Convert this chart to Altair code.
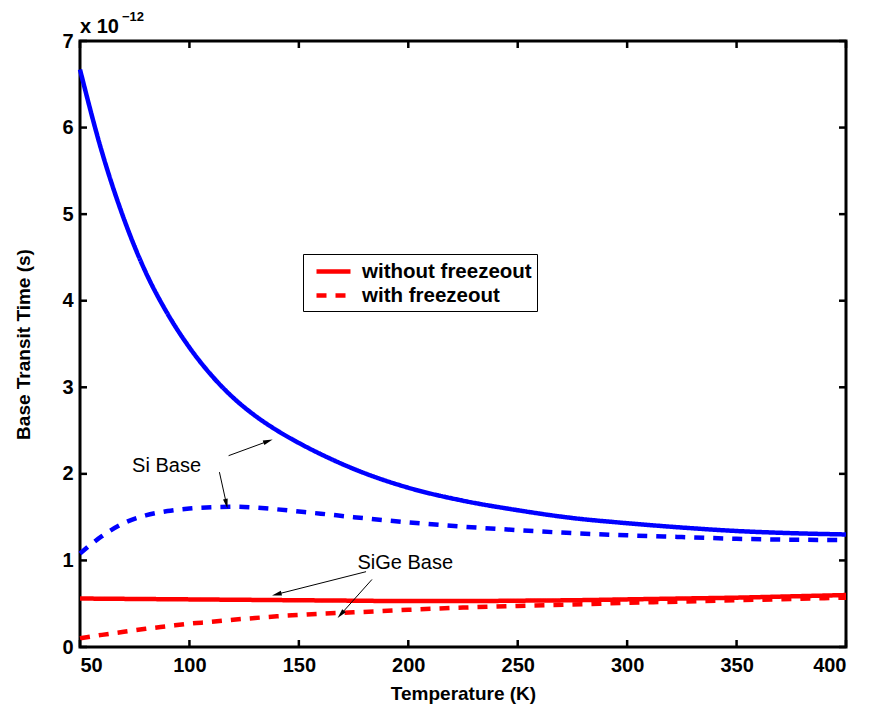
import math
import altair as alt
import pandas as pd

# ---------------- data (values in units of 1e-12 s) ----------------
temps = [50, 60, 70, 80, 90, 100, 110, 120, 130, 140, 150, 160, 175, 200,
         225, 250, 275, 300, 325, 350, 375, 400]
si_without = [6.67, 5.72, 4.95, 4.33, 3.85, 3.46, 3.14, 2.88, 2.672, 2.502, 2.357,
              2.228, 2.058, 1.84, 1.69, 1.58, 1.49, 1.43, 1.38, 1.34, 1.315, 1.30]
si_with = [1.08, 1.28, 1.43, 1.52, 1.57, 1.60, 1.615, 1.62, 1.61, 1.59, 1.565,
           1.54, 1.50, 1.44, 1.39, 1.35, 1.315, 1.29, 1.27, 1.25, 1.24, 1.235]
sige_without = [0.56, 0.558, 0.556, 0.554, 0.552, 0.55, 0.548, 0.546, 0.544,
                0.542, 0.54, 0.538, 0.535, 0.53, 0.53, 0.535, 0.54, 0.55,
                0.56, 0.57, 0.585, 0.60]
sige_with = [0.10, 0.14, 0.175, 0.21, 0.24, 0.27, 0.29, 0.315, 0.335, 0.355,
             0.37, 0.385, 0.40, 0.43, 0.455, 0.475, 0.49, 0.51, 0.525, 0.54,
             0.555, 0.57]

x_ticks = [50, 100, 150, 200, 250, 300, 350, 400]
y_ticks = [0, 1, 2, 3, 4, 5, 6, 7]
legend_labels = ["without freezeout", "with freezeout"]

ann_texts = ["Si Base", "SiGe Base"]
ann_T = [73.8, 176.8]
ann_v = [2.09, 0.97]

arrow_tail_T = [117.9, 113.7, 180.7, 183.4]
arrow_tail_v = [2.21, 2.02, 0.87, 0.78]
arrow_head_T = [137.3, 117.2, 138.5, 168.2]
arrow_head_v = [2.39, 1.62, 0.60, 0.35]

# ---------------- layout ----------------
W, H = 766, 606
T_MIN, T_MAX = 50, 400
V_MIN, V_MAX = 0, 7
sx = W / (T_MAX - T_MIN)
sy = H / (V_MAX - V_MIN)
FONT = "Liberation Sans"

rows = []
for mat, frz, vals in [("Si", legend_labels[0], si_without),
                       ("Si", legend_labels[1], si_with),
                       ("SiGe", legend_labels[0], sige_without),
                       ("SiGe", legend_labels[1], sige_with)]:
    for t, v in zip(temps, vals):
        rows.append({"T": t, "v": v, "material": mat, "freeze": frz,
                     "series": mat + " " + frz})
df = pd.DataFrame(rows)

x_scale = alt.Scale(domain=[T_MIN, T_MAX], nice=False, zero=False)
y_scale = alt.Scale(domain=[V_MIN, V_MAX], nice=False, zero=False)

lines = alt.Chart(df).mark_line(strokeWidth=4.5, interpolate="monotone").encode(
    x=alt.X("T:Q", scale=x_scale,
            axis=alt.Axis(values=x_ticks, title="Temperature (K)", format="d",
                          labelPadding=8, titlePadding=9)),
    y=alt.Y("v:Q", scale=y_scale,
            axis=alt.Axis(values=y_ticks, title="Base Transit Time (s)", format="d",
                          labelPadding=7, titlePadding=28)),
    color=alt.Color("material:N",
                    scale=alt.Scale(domain=["Si", "SiGe"],
                                    range=["#0000ff", "#ff0000"]),
                    legend=None),
    strokeDash=alt.StrokeDash(
        "freeze:N",
        scale=alt.Scale(domain=legend_labels, range=[[1, 0], [10, 9]]),
        legend=alt.Legend(
            title=None, orient="none", legendX=223, legendY=213,
            strokeColor="black", fillColor="white", padding=5,
            symbolType="M-1.7,0H1.7", symbolSize=400, symbolStrokeWidth=4.5,
            symbolStrokeColor="#ff0000", symbolOffset=13,
            labelFont=FONT, labelFontSize=20.5, labelFontWeight="bold",
            labelColor="black", labelOffset=16, rowPadding=1,
            labelLimit=400)),
    detail="series:N",
)

# inward tick marks on all four sides
tl_T = 7 / sx
tl_v = 7 / sy
tick_rows = []
for t in x_ticks:
    tick_rows.append({"x": t, "x2": t, "y": V_MIN, "y2": V_MIN + tl_v})
    tick_rows.append({"x": t, "x2": t, "y": V_MAX, "y2": V_MAX - tl_v})
for v in y_ticks:
    tick_rows.append({"x": T_MIN, "x2": T_MIN + tl_T, "y": v, "y2": v})
    tick_rows.append({"x": T_MAX, "x2": T_MAX - tl_T, "y": v, "y2": v})
ticks = alt.Chart(pd.DataFrame(tick_rows)).mark_rule(
    color="black", strokeWidth=2.5).encode(
    x=alt.X("x:Q", scale=x_scale), x2="x2:Q",
    y=alt.Y("y:Q", scale=y_scale), y2="y2:Q")

# annotation arrows
arr_rows = []
head_rows = []
for tT, tv, hT, hv in zip(arrow_tail_T, arrow_tail_v, arrow_head_T, arrow_head_v):
    dx = (hT - tT) * sx
    dy = -(hv - tv) * sy
    L = math.hypot(dx, dy)
    ux, uy = dx / L, dy / L
    ang = math.degrees(math.atan2(ux, -uy)) % 360
    cT = hT - 4 * ux / sx
    cv = hv + 4 * uy / sy
    arr_rows.append({"x": tT, "y": tv, "x2": hT - 6 * ux / sx, "y2": hv + 6 * uy / sy})
    head_rows.append({"x": cT, "y": cv, "angle": ang})

arrow_lines = alt.Chart(pd.DataFrame(arr_rows)).mark_rule(
    color="black", strokeWidth=1).encode(
    x=alt.X("x:Q", scale=x_scale), x2="x2:Q",
    y=alt.Y("y:Q", scale=y_scale), y2="y2:Q")

arrow_heads = alt.Chart(pd.DataFrame(head_rows)).mark_point(
    shape="M0,-1L0.42,0.7L-0.42,0.7Z", filled=True, color="black",
    opacity=1, size=130, strokeWidth=0).encode(
    x=alt.X("x:Q", scale=x_scale),
    y=alt.Y("y:Q", scale=y_scale),
    angle=alt.Angle("angle:Q", scale=None))

labels = alt.Chart(pd.DataFrame({"T": ann_T, "v": ann_v, "text": ann_texts})).mark_text(
    align="left", baseline="middle", font=FONT, fontSize=20, color="black").encode(
    x=alt.X("T:Q", scale=x_scale),
    y=alt.Y("v:Q", scale=y_scale),
    text="text:N")

# exponent annotation "x 10^-12"
exp_main = alt.Chart(pd.DataFrame({"T": [T_MIN], "v": [V_MAX], "text": ["x 10"]})).mark_text(
    align="left", baseline="alphabetic", font=FONT, fontSize=20,
    fontWeight="bold", color="black", dx=0, dy=-8).encode(
    x=alt.X("T:Q", scale=x_scale), y=alt.Y("v:Q", scale=y_scale), text="text:N")
exp_sup = alt.Chart(pd.DataFrame({"T": [T_MIN], "v": [V_MAX], "text": ["\u221212"]})).mark_text(
    align="left", baseline="alphabetic", font=FONT, fontSize=13,
    fontWeight="bold", color="black", dx=42, dy=-20).encode(
    x=alt.X("T:Q", scale=x_scale), y=alt.Y("v:Q", scale=y_scale), text="text:N")

chart = alt.layer(lines, ticks, arrow_lines, arrow_heads, labels, exp_main, exp_sup).properties(
    width=W, height=H,
    autosize=alt.AutoSizeParams(type="none"),
    padding={"left": 80, "top": 41, "right": 23, "bottom": 68},
    background="white",
).configure_view(
    stroke="black", strokeWidth=3
).configure_axis(
    domain=False, ticks=False, tickSize=0, grid=False,
    labelFont=FONT, labelFontSize=20, labelFontWeight="bold", labelColor="black",
    titleFont=FONT, titleFontSize=19, titleFontWeight="bold", titleColor="black",
)

chart.save("out.html", embed_options={"renderer": "svg", "actions": False})
